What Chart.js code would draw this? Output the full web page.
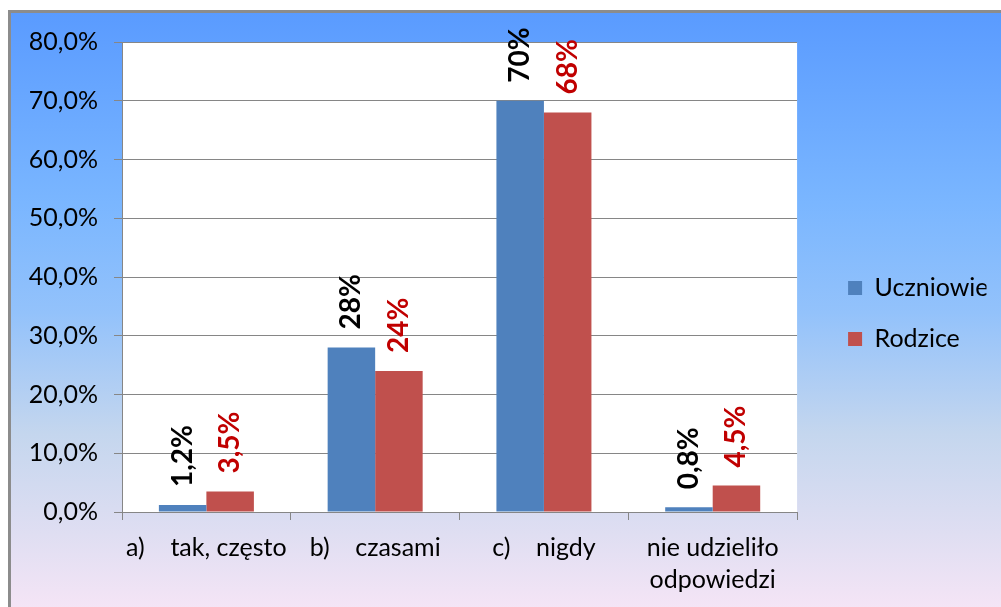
<!DOCTYPE html>
<html lang="pl">
<head>
<meta charset="UTF-8">
<title>Uczniowie / Rodzice</title>
<script src="https://cdn.jsdelivr.net/npm/chart.js"></script>
<style>
  body { margin: 0; background: #fff; width: 1001px; height: 607px; overflow: hidden; position: relative; }
  #frame {
    position: absolute; left: 8px; top: 10px; width: 1010px; height: 620px;
    border: 3px solid #8c8c8c;
    background: linear-gradient(to bottom, #5a9bff 0px, #7ab6ff 190px, #93c2fb 300px, #c4d6ee 420px, #dfdef2 520px, #f6e5f6 600px);
  }
  #chart { position: absolute; left: 0; top: 0; }
</style>
</head>
<body>
<div id="frame"></div>
<canvas id="chart" width="1001" height="607"></canvas>
<script>
// data
var categories = ['a)    tak, często', 'b)    czasami', 'c)    nigdy', ['nie udzieliło', 'odpowiedzi']];
var uczniowie = [1.2, 28, 70, 0.8];
var rodzice = [3.5, 24, 68, 4.5];
var uczniowieLabels = ['1,2%', '28%', '70%', '0,8%'];
var rodziceLabels = ['3,5%', '24%', '68%', '4,5%'];
var yTickLabels = ['0,0%', '10,0%', '20,0%', '30,0%', '40,0%', '50,0%', '60,0%', '70,0%', '80,0%'];

var gridGrey = '#868686';

// white plot area
var plotBg = {
    id: 'plotBg',
    beforeDraw: function(chart) {
        var a = chart.chartArea;
        chart.ctx.save();
        chart.ctx.fillStyle = '#ffffff';
        chart.ctx.fillRect(a.left, a.top, a.right - a.left, a.bottom - a.top);
        chart.ctx.restore();
    }
};

// rotated value labels above the bars
var barLabels = {
    id: 'barLabels',
    afterDatasetsDraw: function(chart) {
        var ctx = chart.ctx;
        chart.data.datasets.forEach(function(ds, i) {
            var meta = chart.getDatasetMeta(i);
            meta.data.forEach(function(bar, j) {
                ctx.save();
                ctx.translate(bar.x, bar.y - 18);
                ctx.rotate(-Math.PI / 2);
                ctx.font = 'bold 28px Lato';
                ctx.fillStyle = ds.labelColor;
                ctx.textAlign = 'left';
                ctx.textBaseline = 'middle';
                ctx.fillText(ds.valueLabels[j], 0, 0);
                ctx.restore();
            });
        });
    }
};

var ctx = document.getElementById('chart').getContext('2d');
var chart = new Chart(ctx, {
    type: 'bar',
    data: {
        labels: categories,
        datasets: [{
            label: 'Uczniowie',
            data: uczniowie,
            backgroundColor: '#4f81bd',
            borderWidth: 0,
            valueLabels: uczniowieLabels,
            labelColor: '#000000'
        }, {
            label: 'Rodzice',
            data: rodzice,
            backgroundColor: '#c0504d',
            borderWidth: 0,
            valueLabels: rodziceLabels,
            labelColor: '#c00000'
        }]
    },
    options: {
        responsive: false,
        animation: false,
        devicePixelRatio: 1,
        categoryPercentage: 0.563,
        barPercentage: 1,
        layout: { padding: { left: 0, top: 20, right: 14.5, bottom: 0 } },
        plugins: {
            tooltip: { enabled: false },
            // blank title only used as a spacer above the plot
            title: {
                display: true,
                text: ' ',
                font: { size: 10, lineHeight: 1.2 },
                padding: { top: 5, bottom: 5 }
            },
            legend: {
                position: 'right',
                align: 'center',
                labels: {
                    boxWidth: 14,
                    boxHeight: 14,
                    padding: 26,
                    color: '#000',
                    font: { family: 'Lato', size: 25 },
                    // trailing space so the last letter is not cut at the legend edge
                    generateLabels: function(c) {
                        return Chart.defaults.plugins.legend.labels.generateLabels(c).map(function(item) {
                            item.text = item.text + ' ';
                            return item;
                        });
                    }
                }
            }
        },
        scales: {
            x: {
                grid: { drawOnChartArea: false, drawTicks: true, tickLength: 8, color: gridGrey },
                border: { color: gridGrey },
                ticks: {
                    color: '#000',
                    padding: 12,
                    maxRotation: 0,
                    autoSkip: false,
                    font: { family: 'Lato', size: 25, lineHeight: 1.28 }
                },
                afterFit: function(s) { s.height = 95; }
            },
            y: {
                min: 0,
                max: 80,
                grid: { color: gridGrey, tickLength: 8 },
                border: { color: gridGrey },
                ticks: {
                    stepSize: 10,
                    color: '#000',
                    padding: 16,
                    font: { family: 'Lato', size: 25 },
                    callback: function(v) { return yTickLabels[Math.round(v / 10)]; }
                },
                afterFit: function(s) { s.width = 122; }
            },
            spacer: {
                position: 'right',
                display: true,
                grid: { display: false },
                border: { display: false },
                ticks: { display: false },
                afterFit: function(s) { s.width = 25; }
            }
        }
    },
    plugins: [plotBg, barLabels]
});
</script>
</body>
</html>
